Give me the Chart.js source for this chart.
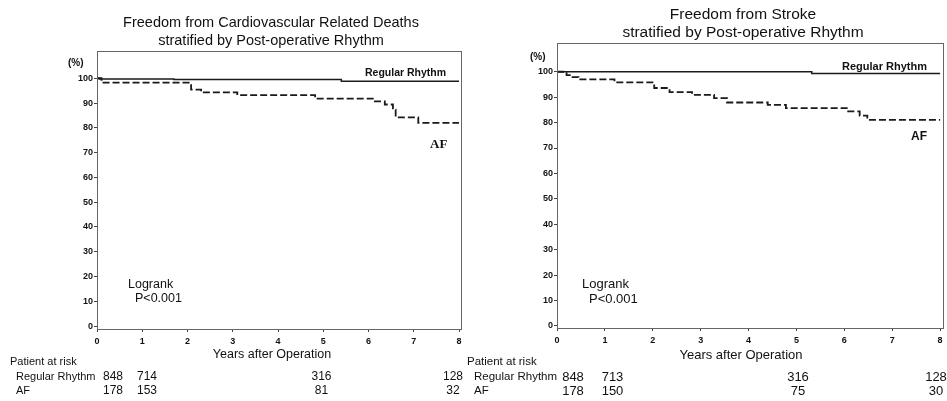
<!DOCTYPE html>
<html>
<head>
<meta charset="utf-8">
<script src="https://cdn.jsdelivr.net/npm/chart.js@4.4.1/dist/chart.umd.min.js"></script>
<style>
html,body{margin:0;padding:0;background:#fff;}
#wrap{position:relative;width:947px;height:401px;overflow:hidden;background:#fff;}
canvas{position:absolute;top:0;}
</style>
</head>
<body>
<div id="wrap">
<canvas id="c1" width="470" height="401" style="left:0px"></canvas>
<canvas id="c2" width="487" height="401" style="left:460px"></canvas>
</div>
<script>
// ---- data ----
const yearTicks = [0, 1, 2, 3, 4, 5, 6, 7, 8];
const pctTicks = [0, 10, 20, 30, 40, 50, 60, 70, 80, 90, 100];

// Freedom from cardiovascular related deaths
const cvdRegularYears = [0, 0.05, 1.7, 5.4, 8];
const cvdRegularPct   = [100, 99.7, 99.5, 98.8, 98.8];
const cvdAFYears = [0, 0.1, 2.08, 2.3, 3.1, 4.82, 6.14, 6.36, 6.54, 6.6, 7.1, 8];
const cvdAFPct   = [100, 98.2, 95.4, 94.3, 93.2, 91.8, 90.7, 89.4, 87.3, 84.2, 82.0, 82.0];

// Freedom from stroke
const strokeRegularYears = [0, 5.32, 8];
const strokeRegularPct   = [100, 99.3, 99.3];
const strokeAFYears = [0, 0.2, 0.3, 0.45, 1.2, 2.03, 2.35, 2.82, 3.28, 3.55, 4.4, 4.78, 6.08, 6.32, 6.48, 8];
const strokeAFPct   = [100, 98.7, 97.9, 97.0, 95.8, 93.6, 92.0, 90.9, 89.6, 87.9, 87.0, 85.7, 84.4, 82.7, 81.1, 81.1];

// Patients at risk
const atRiskYears = [0, 1, 5, 8];
const cvdAtRiskRegular = [848, 714, 316, 128];
const cvdAtRiskAF      = [178, 153, 81, 32];
const strokeAtRiskRegular = [848, 713, 316, 128];
const strokeAtRiskAF      = [178, 150, 75, 30];

// ---- helpers ----
const SANS = '"Liberation Sans", Arial, sans-serif';
const SERIF = '"Liberation Serif", "Times New Roman", serif';
function pts(xs, ys){ return xs.map((x,i)=>({x:x, y:ys[i]})); }

const boxPlugin = {
  id: 'box',
  afterDraw(chart){
    const a = chart.chartArea, ctx = chart.ctx;
    ctx.save();
    ctx.strokeStyle = '#666';
    ctx.lineWidth = 1;
    ctx.strokeRect(Math.round(a.left)+0.5, Math.round(a.top)+0.5, Math.round(a.right-a.left), Math.round(a.bottom-a.top));
    ctx.restore();
  }
};

const textPlugin = {
  id: 'texts',
  afterDraw(chart, args, opts){
    const ctx = chart.ctx;
    ctx.save();
    ctx.fillStyle = '#111';
    ctx.textBaseline = 'middle';
    (opts.items || []).forEach(t => {
      ctx.font = t.font;
      ctx.textAlign = t.align || 'left';
      ctx.fillText(t.text, t.x, t.y);
    });
    ctx.restore();
  }
};

function makePanel(id, cfg){
  const W = cfg.width, H = 401;
  const items = [];
  const ox = cfg.offsetX;
  cfg.titles.forEach(t => items.push({text:t.text, x:t.x-ox, y:t.y, font:t.font, align:'center'}));
  cfg.labels.forEach(t => items.push({text:t.text, x:t.x-ox, y:t.y, font:t.font, align:t.align||'left'}));
  // at-risk table
  items.push({text:'Patient at risk', x:cfg.risk.headX-ox, y:362, font:cfg.risk.headFont});
  items.push({text:'Regular Rhythm', x:cfg.risk.nameX-ox, y:377, font:cfg.risk.nameFont});
  items.push({text:'AF', x:cfg.risk.nameX-ox, y:391, font:cfg.risk.nameFont});
  atRiskYears.forEach((yr, i) => {
    items.push({text:String(cfg.riskRegular[i]), x:cfg.risk.cols[i]-ox, y:377, font:cfg.risk.numFont, align:'center'});
    items.push({text:String(cfg.riskAF[i]), x:cfg.risk.cols[i]-ox, y:391, font:cfg.risk.numFont, align:'center'});
  });

  const area = cfg.area;
  new Chart(document.getElementById(id), {
    type: 'line',
    data: {
      datasets: [
        { label:'Regular Rhythm', data: pts(cfg.regX, cfg.regY), stepped:true,
          borderColor:'#1a1a1a', borderWidth:1.5, pointRadius:0, fill:false },
        { label:'AF', data: pts(cfg.afX, cfg.afY), stepped:true,
          borderColor:'#1a1a1a', borderWidth:1.8, borderDash:[7,3], pointRadius:0, fill:false }
      ]
    },
    options: {
      responsive:false, animation:false, devicePixelRatio:1,
      layout:{ padding:{ left:0, right: W-(area.right-ox), top: area.top, bottom: 0 } },
      plugins:{ legend:{display:false}, tooltip:{enabled:false}, title:{display:false},
        texts:{ items: items } },
      scales:{
        x:{ type:'linear', min:0, max:cfg.xMax,
          afterBuildTicks: s => { s.ticks = yearTicks.map(v=>({value:v})); },
          afterFit: s => { s.height = H - area.bottom; },
          grid:{ drawOnChartArea:false, drawTicks:true, tickLength:3, color:'#444' },
          border:{ display:true, color:'#555', width:1 },
          ticks:{ color:'#111', font:{family:SANS, size:9, weight:'bold'}, padding:4, maxRotation:0,
                  callback: v => String(v) }
        },
        y:{ type:'linear', min:cfg.yMin, max:cfg.yMax,
          afterBuildTicks: s => { s.ticks = pctTicks.map(v=>({value:v})); },
          afterFit: s => { s.width = area.left - ox; },
          grid:{ drawOnChartArea:false, drawTicks:true, tickLength:3, color:'#444' },
          border:{ display:true, color:'#555', width:1 },
          ticks:{ color:'#111', font:{family:SANS, size:9, weight:'bold'}, padding:1,
                  callback: v => String(v) }
        }
      }
    },
    plugins:[boxPlugin, textPlugin]
  });
}

makePanel('c1', {
  offsetX:0, width:470,
  area:{left:97, right:461, top:51, bottom:329},
  xMax:8.044, yMin:-1.2, yMax:111.0,
  regX:cvdRegularYears, regY:cvdRegularPct, afX:cvdAFYears, afY:cvdAFPct,
  riskRegular:cvdAtRiskRegular, riskAF:cvdAtRiskAF,
  titles:[
    {text:'Freedom from Cardiovascular Related Deaths', x:271, y:23, font:'14.5px '+SANS},
    {text:'stratified by Post-operative Rhythm', x:271, y:41, font:'14.5px '+SANS}
  ],
  labels:[
    {text:'(%)', x:68, y:63, font:'bold 10px '+SANS},
    {text:'Regular Rhythm', x:365, y:73, font:'bold 10.5px '+SANS},
    {text:'AF', x:430, y:145, font:'bold 13px '+SERIF},
    {text:'Logrank', x:128, y:285, font:'12.5px '+SANS},
    {text:'P<0.001', x:135, y:299, font:'12.5px '+SANS},
    {text:'Years after Operation', x:272, y:355, font:'12.5px '+SANS, align:'center'}
  ],
  risk:{headX:10, nameX:16, cols:[113, 147, 321.5, 453],
        headFont:'11px '+SANS, nameFont:'11px '+SANS, numFont:'12px '+SANS}
});

makePanel('c2', {
  offsetX:460, width:487,
  area:{left:557, right:943, top:43, bottom:328},
  xMax:8.06, yMin:-0.8, yMax:111.3,
  regX:strokeRegularYears, regY:strokeRegularPct, afX:strokeAFYears, afY:strokeAFPct,
  riskRegular:strokeAtRiskRegular, riskAF:strokeAtRiskAF,
  titles:[
    {text:'Freedom from Stroke', x:743, y:15, font:'15.5px '+SANS},
    {text:'stratified by Post-operative Rhythm', x:743, y:33, font:'15.5px '+SANS}
  ],
  labels:[
    {text:'(%)', x:530, y:57, font:'bold 10px '+SANS},
    {text:'Regular Rhythm', x:842, y:67, font:'bold 11px '+SANS},
    {text:'AF', x:911, y:137, font:'bold 12px '+SANS},
    {text:'Logrank', x:582, y:284, font:'13px '+SANS},
    {text:'P<0.001', x:589, y:299, font:'13px '+SANS},
    {text:'Years after Operation', x:741, y:355, font:'13px '+SANS, align:'center'}
  ],
  risk:{headX:467, nameX:474, cols:[573, 612.5, 798, 936],
        headFont:'11.5px '+SANS, nameFont:'11.5px '+SANS, numFont:'13px '+SANS}
});
</script>
</body>
</html>
